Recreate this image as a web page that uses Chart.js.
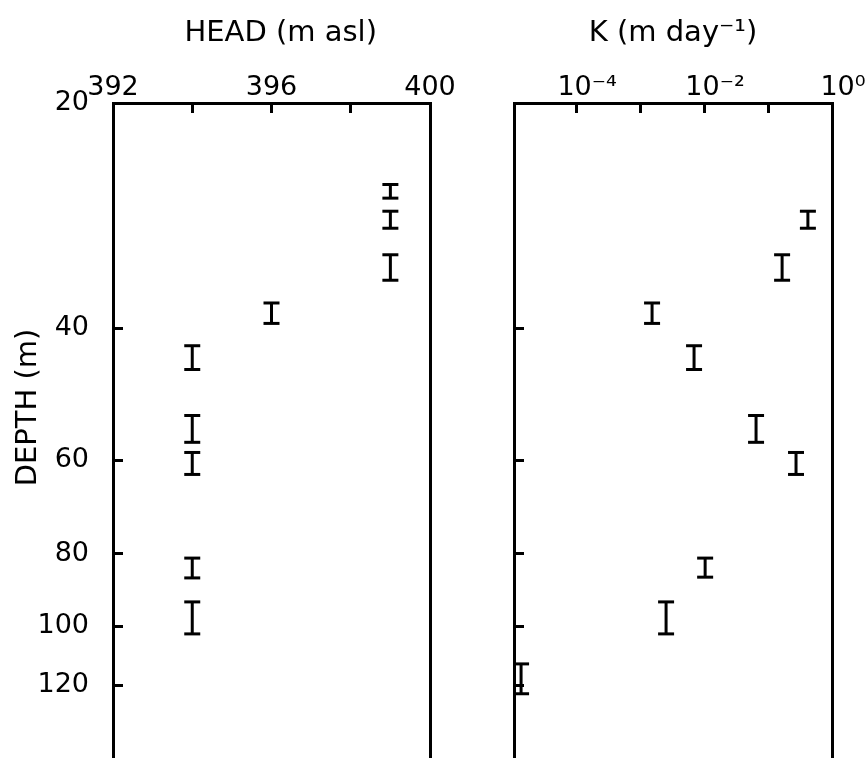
<!DOCTYPE html>
<html>
<head>
<meta charset="utf-8">
<script src="https://cdn.jsdelivr.net/npm/chart.js@4.4.1/dist/chart.umd.min.js"></script>
<style>
  body { margin: 0; background: #fff; }
  #wrap { position: relative; width: 865px; height: 758px; overflow: hidden; }
  #headChart { position: absolute; left: 0; top: 0; }
  #kChart { position: absolute; left: 470px; top: 0; }
</style>
</head>
<body>
<div id="wrap">
  <canvas id="headChart" width="470" height="758"></canvas>
  <canvas id="kChart" width="395" height="758"></canvas>
</div>
<script>
// tested depth intervals (m) and hydraulic head (m asl)
const headTop    = [25.7, 27.9, 31.9, 37.0, 42.2, 52.3, 58.6, 81.1, 92.8];
const headBottom = [26.8, 29.4, 34.5, 39.4, 45.4, 56.8, 62.7, 86.2, 102.4];
const headValue  = [399, 399, 399, 396, 394, 394, 394, 394, 394];

// tested depth intervals (m) and hydraulic conductivity (m/day)
const kTop    = [27.9, 31.9, 37.0, 42.2, 52.3, 58.6, 81.1, 92.8, 112.3];
const kBottom = [29.4, 34.5, 39.4, 45.4, 56.8, 62.7, 86.0, 102.4, 123.1];
const kValue  = [0.42, 0.166, 0.00154, 0.00698, 0.065, 0.274, 0.0104, 0.00255, 0.0000138];

const depthTicks = [20, 40, 60, 80, 100, 120];
const headTicks = [392, 394, 396, 398, 400];
const headTickLabels = ['392', '', '396', '', '400'];
const kTicks = [1e-4, 1e-3, 1e-2, 1e-1, 1];
const kTickLabels = ['10⁻⁴', '', '10⁻²', '', '10⁰'];

const tickFont = { family: 'DejaVu Sans', size: 27 };
const titleFont = { family: 'DejaVu Sans', size: 29 };
const black = '#000';

// each interval is a short vertical line with flat caps
function intervals(values, tops, bottoms) {
  return values.map((v, i) => ({
    data: [{ x: v, y: tops[i] }, { x: v, y: bottoms[i] }],
    showLine: true,
    borderColor: black,
    borderWidth: 3,
    pointStyle: 'line',
    pointRadius: 8,
    pointBorderWidth: 3,
    pointBorderColor: black,
    clip: false,
    xAxisID: 'x',
    yAxisID: 'y'
  }));
}

const inwardTicks = { drawOnChartArea: false, tickLength: -10, tickWidth: 3, tickColor: black };
const frame = { color: black, width: 3 };

function depthAxis(showLabels, width) {
  return {
    type: 'logarithmic',
    position: 'left',
    reverse: true,
    min: 20,
    max: 150,
    afterBuildTicks: s => { s.ticks = depthTicks.map(v => ({ value: v })); },
    ticks: {
      display: showLabels, autoSkip: false, padding: 34,
      font: tickFont, color: black,
      callback: v => String(v)
    },
    grid: inwardTicks,
    border: frame,
    title: {
      display: showLabels, text: '     DEPTH (m)', font: titleFont, color: black,
      padding: { top: 10.6, bottom: 0 }
    },
    // the axis runs to the bottom edge of the picture
    afterFit: s => { s.width = width; s.paddingTop = 0; s.paddingBottom = 0; }
  };
}

const rightFrame = {
  type: 'linear',
  position: 'right',
  ticks: { display: false },
  grid: { drawOnChartArea: false, drawTicks: false },
  border: frame,
  afterFit: s => { s.width = 0; s.paddingTop = 0; s.paddingBottom = 0; }
};

const common = {
  responsive: false,
  animation: false,
  plugins: { legend: { display: false }, tooltip: { enabled: false } }
};

new Chart(document.getElementById('headChart'), {
  type: 'scatter',
  data: { datasets: intervals(headValue, headTop, headBottom) },
  options: {
    ...common,
    layout: { autoPadding: false, padding: { right: 40 } },
    scales: {
      x: {
        type: 'linear',
        position: 'top',
        min: 392,
        max: 400,
        afterBuildTicks: s => { s.ticks = headTicks.map(v => ({ value: v })); },
        ticks: {
          autoSkip: false, maxRotation: 0, padding: 9,
          font: tickFont, color: black,
          callback: (v, i) => headTickLabels[i]
        },
        grid: inwardTicks,
        border: frame,
        title: {
          display: true, text: '  HEAD (m asl)', font: titleFont, color: black,
          padding: { top: 15.6, bottom: 0 }
        },
        afterFit: s => { s.height = 103; }
      },
      y: depthAxis(true, 113),
      y2: rightFrame
    }
  }
});

new Chart(document.getElementById('kChart'), {
  type: 'scatter',
  data: { datasets: intervals(kValue, kTop, kBottom) },
  options: {
    ...common,
    layout: { autoPadding: false, padding: { right: 33 } },
    scales: {
      x: {
        type: 'logarithmic',
        position: 'top',
        min: 1.07e-5,
        max: 1,
        afterBuildTicks: s => { s.ticks = kTicks.map(v => ({ value: v })); },
        ticks: {
          autoSkip: false, maxRotation: 0, padding: 9, labelOffset: 11,
          font: tickFont, color: black,
          callback: (v, i) => kTickLabels[i]
        },
        grid: inwardTicks,
        border: frame,
        title: {
          display: true, text: 'K (m day⁻¹)', font: titleFont, color: black,
          padding: { top: 15.6, bottom: 0 }
        },
        afterFit: s => { s.height = 103; }
      },
      y: depthAxis(false, 44),
      y2: rightFrame
    }
  }
});
</script>
</body>
</html>
